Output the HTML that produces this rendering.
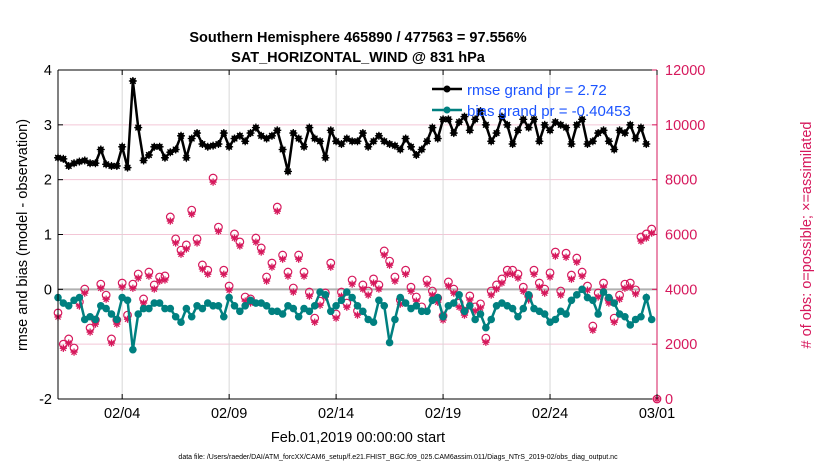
<!DOCTYPE html>
<html><head><meta charset="utf-8"><style>
body{margin:0;background:#fff;font-family:"Liberation Sans",sans-serif}
svg text{font-family:"Liberation Sans",sans-serif}
</style></head><body>
<svg id="chart" width="830" height="470" viewBox="0 0 830 470" xmlns="http://www.w3.org/2000/svg">
<rect width="830" height="470" fill="#fff"/>
<text x="358" y="42" text-anchor="middle" font-size="14.5" font-weight="bold">Southern Hemisphere 465890 / 477563 = 97.556%</text>
<text x="358" y="62" text-anchor="middle" font-size="14.5" font-weight="bold">SAT_HORIZONTAL_WIND @ 831 hPa</text>
<g id="grid"></g>
<g id="marks"></g>
<g id="axes"></g>
<text transform="translate(27,235) rotate(-90)" text-anchor="middle" font-size="14.5">rmse and bias (model - observation)</text>
<text transform="translate(811,235) rotate(-90)" text-anchor="middle" font-size="14.5" fill="#d6185c"># of obs: o=possible; ×=assimilated</text>
<text x="358" y="442" text-anchor="middle" font-size="14.5">Feb.01,2019 00:00:00 start</text>
<text x="398" y="459" text-anchor="middle" font-size="7">data file: /Users/raeder/DAI/ATM_forcXX/CAM6_setup/f.e21.FHIST_BGC.f09_025.CAM6assim.011/Diags_NTrS_2019-02/obs_diag_output.nc</text>
<g>
<line x1="432" y1="89" x2="462" y2="89" stroke="#000" stroke-width="2.5"/>
<circle cx="447" cy="89" r="3.5" fill="#000"/>
<text x="467" y="95" font-size="15" fill="#1a53ff">rmse grand pr = 2.72</text>
<line x1="432" y1="110" x2="462" y2="110" stroke="#008080" stroke-width="2.5"/>
<circle cx="447" cy="110" r="3.5" fill="#008080"/>
<text x="467" y="116" font-size="15" fill="#1a53ff">bias grand pr = -0.40453</text>
</g>
</svg>
<script>
const rmse=[2.4,2.38,2.25,2.3,2.33,2.35,2.3,2.3,2.55,2.28,2.25,2.25,2.6,2.22,3.8,
2.95,2.35,2.45,2.6,2.6,2.4,2.5,2.55,2.8,2.4,2.75,2.85,2.65,2.6,2.62,
2.65,2.85,2.6,2.75,2.8,2.7,2.85,2.95,2.8,2.75,2.8,2.9,2.55,2.15,2.85,
2.75,2.6,2.95,2.75,2.7,2.4,2.9,2.7,2.65,2.75,2.7,2.7,2.85,2.6,2.7,
2.8,2.7,2.65,2.62,2.55,2.75,2.6,2.45,2.55,2.7,2.95,2.75,3.1,3.1,2.85,
3.05,3.15,2.9,3.1,3.25,3.0,2.7,2.85,3.15,3.0,2.65,2.9,3.1,2.95,3.1,
2.7,3.0,2.9,3.05,3.0,2.95,2.65,3.0,3.1,2.65,2.7,2.85,2.9,2.7,2.55,
2.9,2.85,3.0,2.75,2.95,2.65];
const bias=[-0.15,-0.25,-0.3,-0.2,-0.15,-0.55,-0.5,-0.55,-0.3,-0.35,-0.45,-0.55,-0.15,-0.2,-1.1,
-0.45,-0.35,-0.35,-0.25,-0.25,-0.35,-0.35,-0.5,-0.6,-0.35,-0.5,-0.3,-0.35,-0.25,-0.3,
-0.3,-0.5,-0.15,-0.3,-0.4,-0.3,-0.2,-0.25,-0.25,-0.3,-0.4,-0.4,-0.45,-0.3,-0.35,
-0.5,-0.35,-0.4,-0.3,-0.05,-0.1,-0.4,-0.3,-0.2,-0.05,-0.15,-0.3,-0.4,-0.55,-0.6,
-0.2,-0.3,-0.97,-0.55,-0.15,-0.25,-0.35,-0.3,-0.4,-0.4,-0.2,-0.15,-0.5,-0.3,-0.25,
-0.1,-0.4,-0.3,-0.55,-0.45,-0.7,-0.55,-0.3,-0.25,-0.3,-0.35,-0.5,-0.35,-0.1,-0.35,
-0.4,-0.45,-0.6,-0.55,-0.4,-0.45,-0.2,-0.1,0.0,-0.15,-0.2,-0.45,-0.05,-0.15,-0.25,-0.45,-0.5,-0.65,-0.55,-0.5,-0.15,-0.55];
const nPossible=[3140,2000,2190,1860,3540,4010,2590,2880,4190,3790,2190,2880,4230,3060,4190,4560,3650,4630,4160,4450,4490,6640,5840,5430,5620,6890,5840,4890,4700,
8060,6270,4700,4120,6020,5730,3720,3650,5870,5510,4450,4960,7000,5250,4630,4050,5250,4630,3900,2950,3570,3870,4960,3100,3900,3500,4340,3210,
4160,3940,4380,4160,5400,5030,4450,3610,4700,4080,3720,3360,4340,3940,3680,3030,4270,4010,3500,3210,3760,3360,3470,2220,3940,4160,4380,
4700,
4700,4560,4080,3760,4700,4230,4010,4600,5360,3940,5320,4520,5140,4630,4120,2660,3870,4230,3650,2950,3790,4190,4230,3980,5910,6020,6200,
0];
const nAssim=[2990,1850,2040,1710,3390,3860,2440,2730,4040,3640,2040,2730,4080,2910,4040,4410,3500,4480,4010,4300,4340,6490,5690,5280,5470,6740,5690,4740,4550,
7910,6120,4550,3970,5870,5580,3570,3500,5720,5360,4300,4810,6850,5100,4480,3900,5100,4480,3750,2800,3420,3720,4810,2950,3750,3350,4190,3060,
4010,3790,4230,4010,5250,4880,4300,3460,4550,3930,3570,3210,4190,3790,3530,2880,4120,3860,3350,3060,3610,3210,3320,2070,3790,4010,4230,
4550,
4550,4410,3930,3610,4550,4080,3860,4450,5210,3790,5170,4370,4990,4480,3970,2510,3720,4080,3500,2800,3640,4040,4080,3830,5760,5870,6050,
0];
const startDay=1, stepDays=0.25;
const xTickDays=[4,9,14,19,24,29];
const xTickLabels=['02/04','02/09','02/14','02/19','02/24','03/01'];
const leftTicks=[4,3,2,1,0,-2];
const rightTicks=[0,2000,4000,6000,8000,10000,12000];

const X0=58,X1=657,Y0=70,Y1=399;
const xS=d=>X0+(d-1)/(29-1)*(X1-X0);
const yL=v=>Y1-(v+2)/6*(Y1-Y0);
const yR=v=>Y1-v/12000*(Y1-Y0);
const NS='http://www.w3.org/2000/svg';
function mk(tag,attrs,parent){const e=document.createElementNS(NS,tag);for(const k in attrs)e.setAttribute(k,attrs[k]);parent.appendChild(e);return e;}
const grid=document.getElementById('grid'),marks=document.getElementById('marks'),axes=document.getElementById('axes');

rightTicks.forEach(v=>{if(v>0&&v<12000&&v!==4000){const l=mk('line',{x1:X0,x2:X1,y1:yR(v),y2:yR(v),stroke:'#f3c6d6','stroke-width':1},grid);

}});
xTickDays.forEach(d=>{const l=mk('line',{x1:xS(d),x2:xS(d),y1:Y0,y2:Y1,stroke:'#d8d8d8','stroke-width':1},grid);

});
const zl=mk('line',{x1:X0,x2:X1,y1:yL(0),y2:yL(0),stroke:'#b0b0b0','stroke-width':2},grid);



function star(x,y,r,col,g){
  for(let a=0;a<4;a++){const t=a*Math.PI/4;mk('line',{x1:x-r*Math.cos(t),y1:y-r*Math.sin(t),x2:x+r*Math.cos(t),y2:y+r*Math.sin(t),stroke:col,'stroke-width':1.3},g);}
}
// obs
nPossible.forEach((v,i)=>{const x=xS(startDay+i*stepDays);
  const c=mk('circle',{cx:x,cy:yR(v),r:3.8,fill:'none',stroke:'#d6185c','stroke-width':1.2},marks);
  
  });
nAssim.forEach((v,i)=>{const x=xS(startDay+i*stepDays);
  const g=mk('g',{},marks);
  
  
  star(x,yR(v),3.6,'#d6185c',g);});
// rmse
const rp=rmse.map((v,i)=>xS(startDay+i*stepDays)+','+yL(v)).join(' ');
const rl=mk('polyline',{points:rp,fill:'none',stroke:'#000','stroke-width':2.5},marks);


rmse.forEach((v,i)=>{const x=xS(startDay+i*stepDays),y=yL(v);const g=mk('g',{},marks);
  
  
  mk('circle',{cx:x,cy:y,r:3,fill:'#000'},g);star(x,y,4,'#000',g);});
// bias
const bp=bias.map((v,i)=>xS(startDay+i*stepDays)+','+yL(v)).join(' ');
const bl=mk('polyline',{points:bp,fill:'none',stroke:'#008080','stroke-width':2.5},marks);


bias.forEach((v,i)=>{const c=mk('circle',{cx:xS(startDay+i*stepDays),cy:yL(v),r:3.8,fill:'#008080'},marks);
  
  });

// axes frame
const fr=[[X0,Y0,X1,Y0,'#000'],[X0,Y1,X1,Y1,'#000'],[X0,Y0,X0,Y1,'#000'],[X1,Y0,X1,Y1,'#d6185c']];
fr.forEach(f=>{const l=mk('line',{x1:f[0],y1:f[1],x2:f[2],y2:f[3],stroke:f[4],'stroke-width':1},axes);

});
leftTicks.forEach(v=>{const y=yL(v);mk('line',{x1:X0,x2:X0+5,y1:y,y2:y,stroke:'#000'},axes);
  const t=mk('text',{x:X0-6,y:y+5,'text-anchor':'end','font-size':14.5},axes);t.textContent=v;
  
  });
rightTicks.forEach(v=>{const y=yR(v);mk('line',{x1:X1-5,x2:X1,y1:y,y2:y,stroke:'#d6185c'},axes);
  const t=mk('text',{x:X1+8,y:y+5,'font-size':14.5,fill:'#d6185c'},axes);t.textContent=v;
  
  });
xTickDays.forEach((d,i)=>{const x=xS(d);mk('line',{x1:x,x2:x,y1:Y1-5,y2:Y1,stroke:'#000'},axes);mk('line',{x1:x,x2:x,y1:Y0,y2:Y0+5,stroke:'#000'},axes);
  const t=mk('text',{x:x,y:418,'text-anchor':'middle','font-size':14.5},axes);t.textContent=xTickLabels[i];
  
  });
</script>
</body></html>
